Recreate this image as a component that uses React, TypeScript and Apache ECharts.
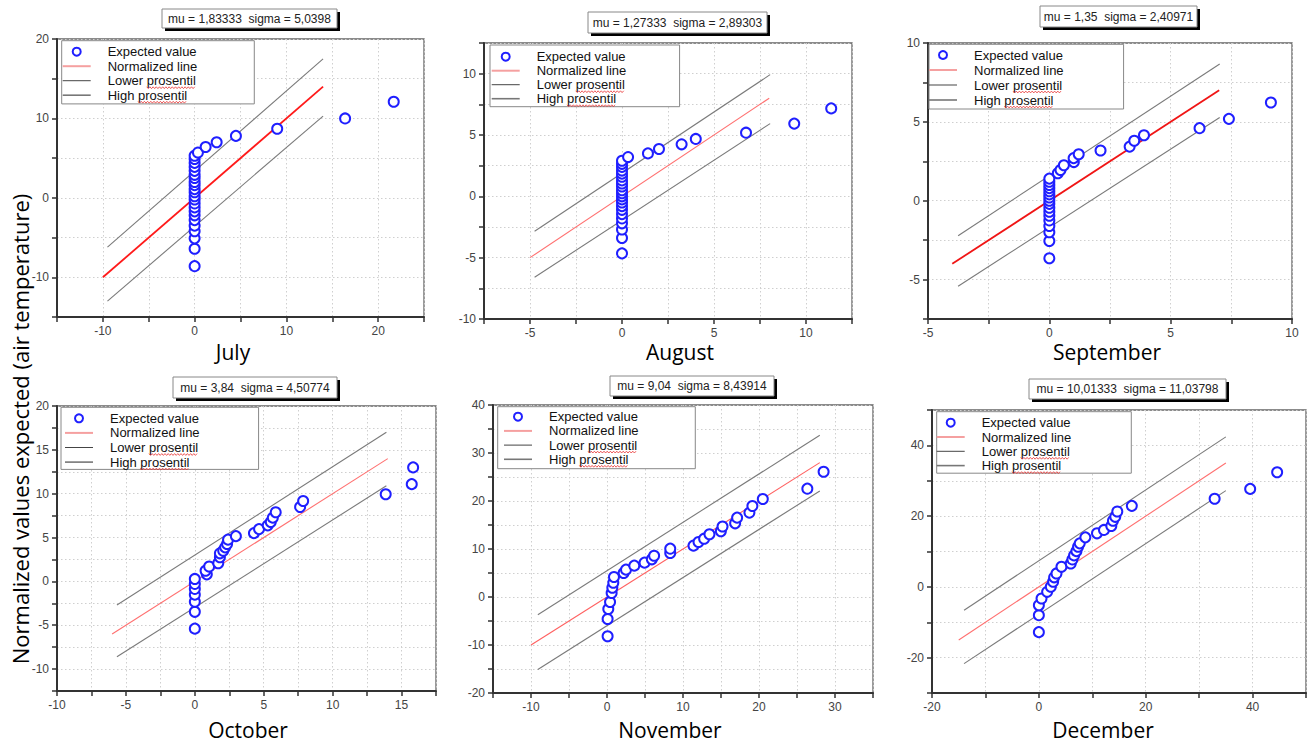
import React, { useEffect, useRef } from 'react';
import * as echarts from 'echarts';

// ---------- DATA ----------
const monthNames = ['July', 'August', 'September', 'October', 'November', 'December'];
const fitTitles = [
  'mu = 1,83333  sigma = 5,0398',
  'mu = 1,27333  sigma = 2,89303',
  'mu = 1,35  sigma = 2,40971',
  'mu = 3,84  sigma = 4,50774',
  'mu = 9,04  sigma = 8,43914',
  'mu = 10,01333  sigma = 11,03798',
];
const legendNames = ['Expected value', 'Normalized line', 'Lower prosentil', 'High prosentil'];
const yAxisTitle = 'Normalized values expected (air temperature)';

// July
const julyObserved = [0, 0, 0, 0, 0, 0, 0, 0, 0, 0, 0, 0, 0, 0, 0, 0, 0, 0, 0, 0, 0, 0, 0, 0.36, 1.2, 2.4, 4.5, 9.0, 16.4, 21.7];
const julyExpected = [-8.6, -6.4, -5.1, -4.2, -3.5, -2.8, -2.2, -1.7, -1.2, -0.7, -0.2, 0.2, 0.7, 1.1, 1.6, 2.0, 2.5, 2.9, 3.4, 3.9, 4.4, 4.9, 5.3, 5.7, 6.4, 7.0, 7.8, 8.7, 10.0, 12.1];
const julyNormal = [[-10, -10], [14, 14]];
const julyLower = [[-9.5, -13.0], [14, 10.3]];
const julyHigh = [[-9.5, -6.2], [14, 17.5]];

// August
const augObserved = [0, 0, 0, 0, 0, 0, 0, 0, 0, 0, 0, 0, 0, 0, 0, 0, 0, 0, 0, 0, 0, 0, 0.33, 1.41, 2.01, 3.24, 4.01, 6.74, 9.36, 11.37];
const augExpected = [-4.65, -3.4, -2.7, -2.2, -1.8, -1.45, -1.1, -0.8, -0.5, -0.25, 0, 0.25, 0.5, 0.8, 1.05, 1.3, 1.6, 1.85, 2.1, 2.4, 2.65, 2.9, 3.2, 3.5, 3.86, 4.24, 4.68, 5.19, 5.93, 7.17];
const augNormal = [[-5, -5], [8, 8]];
const augLower = [[-4.75, -6.6], [8.05, 5.93]];
const augHigh = [[-4.75, -2.85], [8.05, 9.92]];

// September
const sepObserved = [0, 0, 0, 0, 0, 0, 0, 0, 0, 0, 0, 0, 0, 0, 0, 0, 0, 0.35, 0.46, 0.6, 1.01, 1.0, 1.21, 2.11, 3.31, 3.5, 3.9, 6.19, 7.4, 9.13];
const sepExpected = [-3.65, -2.55, -2.0, -1.6, -1.25, -0.95, -0.7, -0.45, -0.2, 0, 0.2, 0.4, 0.6, 0.8, 1.0, 1.2, 1.4, 1.74, 1.95, 2.25, 2.45, 2.7, 2.95, 3.18, 3.43, 3.8, 4.15, 4.6, 5.19, 6.23];
const sepNormal = [[-4, -4], [7, 7]];
const sepLower = [[-3.76, -5.42], [7.02, 5.28]];
const sepHigh = [[-3.76, -2.22], [7.02, 8.67]];

// October
const octObserved = [0, 0, 0, 0, 0, 0, 0, 0.87, 0.78, 1.04, 1.7, 1.82, 1.82, 2.06, 2.2, 2.34, 2.41, 2.98, 4.29, 4.66, 5.29, 5.51, 5.66, 5.87, 7.64, 7.86, 13.85, 15.74, 15.84];
const octExpected = [-5.39, -3.47, -2.32, -1.51, -0.86, -0.29, 0.28, 0.8, 1.22, 1.69, 2.07, 2.75, 3.2, 3.5, 3.88, 4.26, 4.76, 5.16, 5.5, 5.96, 6.39, 6.77, 7.27, 7.88, 8.49, 9.17, 9.94, 11.09, 13.0];
const octNormal = [[-6, -6], [14, 14]];
const octLower = [[-5.65, -8.6], [13.9, 10.9]];
const octHigh = [[-5.65, -2.7], [13.9, 17.0]];

// November
const novObserved = [0.08, 0.08, 0.17, 0.4, 0.61, 0.7, 0.83, 0.92, 2.19, 2.5, 3.59, 4.94, 5.9, 6.2, 8.32, 8.32, 11.38, 12.04, 12.78, 13.48, 14.98, 15.2, 16.86, 17.12, 18.74, 19.13, 20.5, 26.36, 28.5];
const novExpected = [-8.19, -4.58, -2.5, -1.04, 0.83, 1.94, 2.98, 4.16, 5.0, 5.7, 6.53, 7.16, 7.85, 8.6, 9.17, 10.07, 10.7, 11.46, 12.15, 13.06, 13.69, 14.7, 15.35, 16.53, 17.58, 18.97, 20.42, 22.57, 26.1];
const novNormal = [[-10, -10], [28, 28]];
const novLower = [[-9.1, -15.1], [28, 22.1]];
const novHigh = [[-9.1, -3.7], [28, 33.7]];

// December
const decObserved = [0, 0, 0, 0.5, 1.55, 2.24, 2.67, 2.86, 3.3, 4.23, 5.97, 6.28, 6.59, 7.03, 7.34, 7.65, 8.7, 10.88, 12.19, 13.56, 13.87, 14.3, 14.68, 17.4, 32.9, 39.55, 44.6];
const decExpected = [-12.8, -8.0, -5.2, -3.3, -1.4, 0.04, 1.45, 2.7, 3.8, 5.67, 6.62, 7.76, 8.9, 10.1, 11.35, 12.3, 14.0, 15.14, 16.1, 17.2, 18.7, 19.8, 21.3, 22.9, 24.9, 27.7, 32.4];
const decNormal = [[-15, -15], [35, 35]];
const decLower = [[-14, -21.7], [35, 27.2]];
const decHigh = [[-14, -6.6], [35, 42.4]];

const observedSets = [julyObserved, augObserved, sepObserved, octObserved, novObserved, decObserved];
const expectedSets = [julyExpected, augExpected, sepExpected, octExpected, novExpected, decExpected];
const normalSets = [julyNormal, augNormal, sepNormal, octNormal, novNormal, decNormal];
const lowerSets = [julyLower, augLower, sepLower, octLower, novLower, decLower];
const highSets = [julyHigh, augHigh, sepHigh, octHigh, novHigh, decHigh];

// axis ranges: [min, max, tickStep, labelStep]
const xRanges = [[-15, 25, 5, 10], [-7.5, 12.5, 2.5, 5], [-5, 10, 2.5, 5], [-10, 17.5, 2.5, 5], [-15, 35, 5, 10], [-20, 50, 10, 20]];
const yRanges = [[-15, 20, 5, 10], [-10, 12.5, 2.5, 5], [-7.5, 10, 2.5, 5], [-12.5, 20, 2.5, 5], [-20, 40, 5, 10], [-30, 50, 10, 20]];

// ---------- LAYOUT ----------
const gridBoxes = [
  [57, 39, 367, 278],
  [484, 43, 368, 276],
  [928, 43, 364, 276],
  [57, 406, 379, 285],
  [493, 405, 380, 288],
  [932, 410, 375, 283],
];
// legend: left, top, width, padTop, padBottom, padLeft, gap
const legendBoxes = [
  [61.7, 40.7, 195, 4, 1.7, 1, 0.5],
  [490, 45, 192, 4.7, 1, 1.7, 0],
  [929, 44.3, 197, 3.7, 2, 0, 1],
  [61, 407.3, 200, 4, 0.3, 4, 0.6],
  [497.7, 406.7, 200, 3, 2.4, 6.3, 0.2],
  [936.7, 411.7, 197, 4, 0.6, 0, 0.3],
];
const titleBoxes = [
  [162, 9, 175, 19],
  [588, 12, 179, 21],
  [1040, 6, 157, 21],
  [173, 377, 164, 21],
  [610, 376, 164, 20],
  [1029, 379, 197, 20],
];
const monthPos = [[233, 352], [680, 352], [1107, 352], [248, 730], [670, 730], [1103, 730]];
const redStyles = [
  ['#ff1a1a', 1.8], ['#ff7070', 1.1], ['#f01515', 1.8], ['#ff7070', 1.1], ['#ff6060', 1.1], ['#ff7070', 1.1],
];

const BLUE = '#1f1fff';
const BAND = '#7a7a7a';

function makeFormatter(step: number) {
  return (v: number) => {
    const r = v / step;
    return Math.abs(r - Math.round(r)) < 1e-6 ? String(Math.round(v * 100) / 100) : '';
  };
}

function squiggle(x0: number, x1: number, y: number) {
  const pts: number[][] = [];
  let up = true;
  for (let x = x0; x <= x1; x += 1.6) {
    pts.push([x, y + (up ? -0.9 : 0.9)]);
    up = !up;
  }
  return {
    type: 'polyline',
    silent: true,
    shape: { points: pts },
    style: { stroke: '#e83030', lineWidth: 0.8, fill: null },
    z: 100,
  };
}

export default function App() {
  const ref = useRef<HTMLDivElement>(null);
  useEffect(() => {
    if (!ref.current) return;
    const chart = echarts.init(ref.current, null, { renderer: 'svg' });

    const grids = gridBoxes.map(([l, t, w, h]) => ({
      left: l, top: t, width: w, height: h,
      show: true, borderColor: '#666', borderWidth: 1.3, backgroundColor: 'transparent',
    }));

    const axisCommon = (r: number[], i: number) => ({
      type: 'value',
      gridIndex: i,
      min: r[0], max: r[1], interval: r[2],
      axisLine: { show: true, onZero: false, lineStyle: { color: '#333', width: 2 } },
      axisTick: { show: true, inside: false, length: 5, lineStyle: { color: '#333', width: 1.5 } },
      axisLabel: {
        formatter: makeFormatter(r[3]), color: '#444', fontSize: 12,
        fontFamily: 'Liberation Sans', margin: 8, showMinLabel: true, showMaxLabel: true,
      },
      splitLine: { show: true, lineStyle: { color: '#cfcfcf', type: [1.5, 2.5], width: 1 } },
    });

    const xAxes = xRanges.map((r, i) => axisCommon(r, i));
    const yAxes = yRanges.map((r, i) => axisCommon(r, i));

    const series: any[] = [];
    for (let i = 0; i < 6; i++) {
      series.push({
        type: 'line', name: 'Lower prosentil', xAxisIndex: i, yAxisIndex: i,
        data: lowerSets[i], symbol: 'none', silent: true,
        lineStyle: { color: BAND, width: 1.1 }, z: 3,
      });
      series.push({
        type: 'line', name: 'High prosentil', xAxisIndex: i, yAxisIndex: i,
        data: highSets[i], symbol: 'none', silent: true,
        lineStyle: { color: BAND, width: 1.1 }, z: 3,
      });
      series.push({
        type: 'line', name: 'Normalized line', xAxisIndex: i, yAxisIndex: i,
        data: normalSets[i], symbol: 'none', silent: true,
        lineStyle: { color: redStyles[i][0], width: redStyles[i][1] }, z: 4,
      });
      series.push({
        type: 'scatter', name: 'Expected value', xAxisIndex: i, yAxisIndex: i,
        data: observedSets[i].map((x, j) => [x, expectedSets[i][j]]),
        symbol: 'emptyCircle', symbolSize: 10,
        itemStyle: { color: BLUE, borderColor: BLUE, borderWidth: 1.8, opacity: 1 }, z: 5,
      });
    }

    const lineIcon = (h: number) => `path://M0,0L28,0L28,${h}L0,${h}Z`;

    const legends = legendBoxes.map(([l, t, w, pt, pb, pl, gap]) => ({
      left: l, top: t, orient: 'vertical',
      itemWidth: 28, itemHeight: 8, itemGap: gap,
      padding: [pt, Math.max(0, w - pl - 45 - 92), pb, pl],
      borderColor: '#888', borderWidth: 1, backgroundColor: '#fff',
      selectedMode: false,
      symbolKeepAspect: true,
      textStyle: { fontSize: 13, fontFamily: 'Liberation Sans', color: '#111', lineHeight: 14, padding: [0, 0, 0, 12] },
      data: [
        { name: legendNames[0], icon: 'circle', itemStyle: { color: '#fff', borderColor: BLUE, borderWidth: 2 } },
        { name: legendNames[1], icon: lineIcon(2), itemStyle: { color: '#f5a0a0', borderWidth: 0 } },
        { name: legendNames[2], icon: lineIcon(1), itemStyle: { color: '#444', borderWidth: 0 } },
        { name: legendNames[3], icon: lineIcon(1.6), itemStyle: { color: '#777', borderWidth: 0 } },
      ],
    }));

    const graphics: any[] = [];
    titleBoxes.forEach(([x, y, w, h], i) => {
      graphics.push({ type: 'rect', silent: true, shape: { x: x + 3, y: y + 3, width: w, height: h }, style: { fill: '#000' }, z: 100 });
      graphics.push({ type: 'rect', silent: true, shape: { x, y, width: w, height: h }, style: { fill: '#fff', stroke: '#888', lineWidth: 1 }, z: 101 });
      graphics.push({
        type: 'text', silent: true, z: 102,
        style: { text: fitTitles[i], x: x + w / 2, y: y + h / 2, textAlign: 'center', textVerticalAlign: 'middle', font: '12px "Liberation Sans"', fill: '#222' },
      });
    });
    monthPos.forEach(([x, y], i) => {
      graphics.push({
        type: 'text', silent: true, z: 100,
        style: { text: monthNames[i], x, y, textAlign: 'center', textVerticalAlign: 'middle', font: '21px "Open Sans"', fill: '#000' },
      });
    });
    graphics.push({
      type: 'text', silent: true, z: 100, x: 20, y: 429, rotation: Math.PI / 2,
      style: { text: yAxisTitle, x: 0, y: 0, textAlign: 'center', textVerticalAlign: 'middle', font: '22px "Open Sans"', fill: '#000' },
    });
    legendBoxes.forEach(([l, t, w, pt, pb, pl, gap]) => {
      const textX = l + pl + 45;
      const rowY = (k: number) => t + pt + k * (14 + gap) + 7;
      graphics.push(squiggle(textX + 39, textX + 39 + 49, rowY(2) + 7));
      graphics.push(squiggle(textX + 30.3, textX + 30.3 + 49, rowY(3) + 7));
    });

    chart.setOption({
      animation: false,
      backgroundColor: '#fff',
      grid: grids,
      xAxis: xAxes,
      yAxis: yAxes,
      legend: legends,
      series,
      graphic: graphics,
    });
    return () => chart.dispose();
  }, []);
  return <div ref={ref} style={{ position: 'fixed', left: 0, top: 0, width: 1309, height: 746, background: '#fff' }} />;
}
